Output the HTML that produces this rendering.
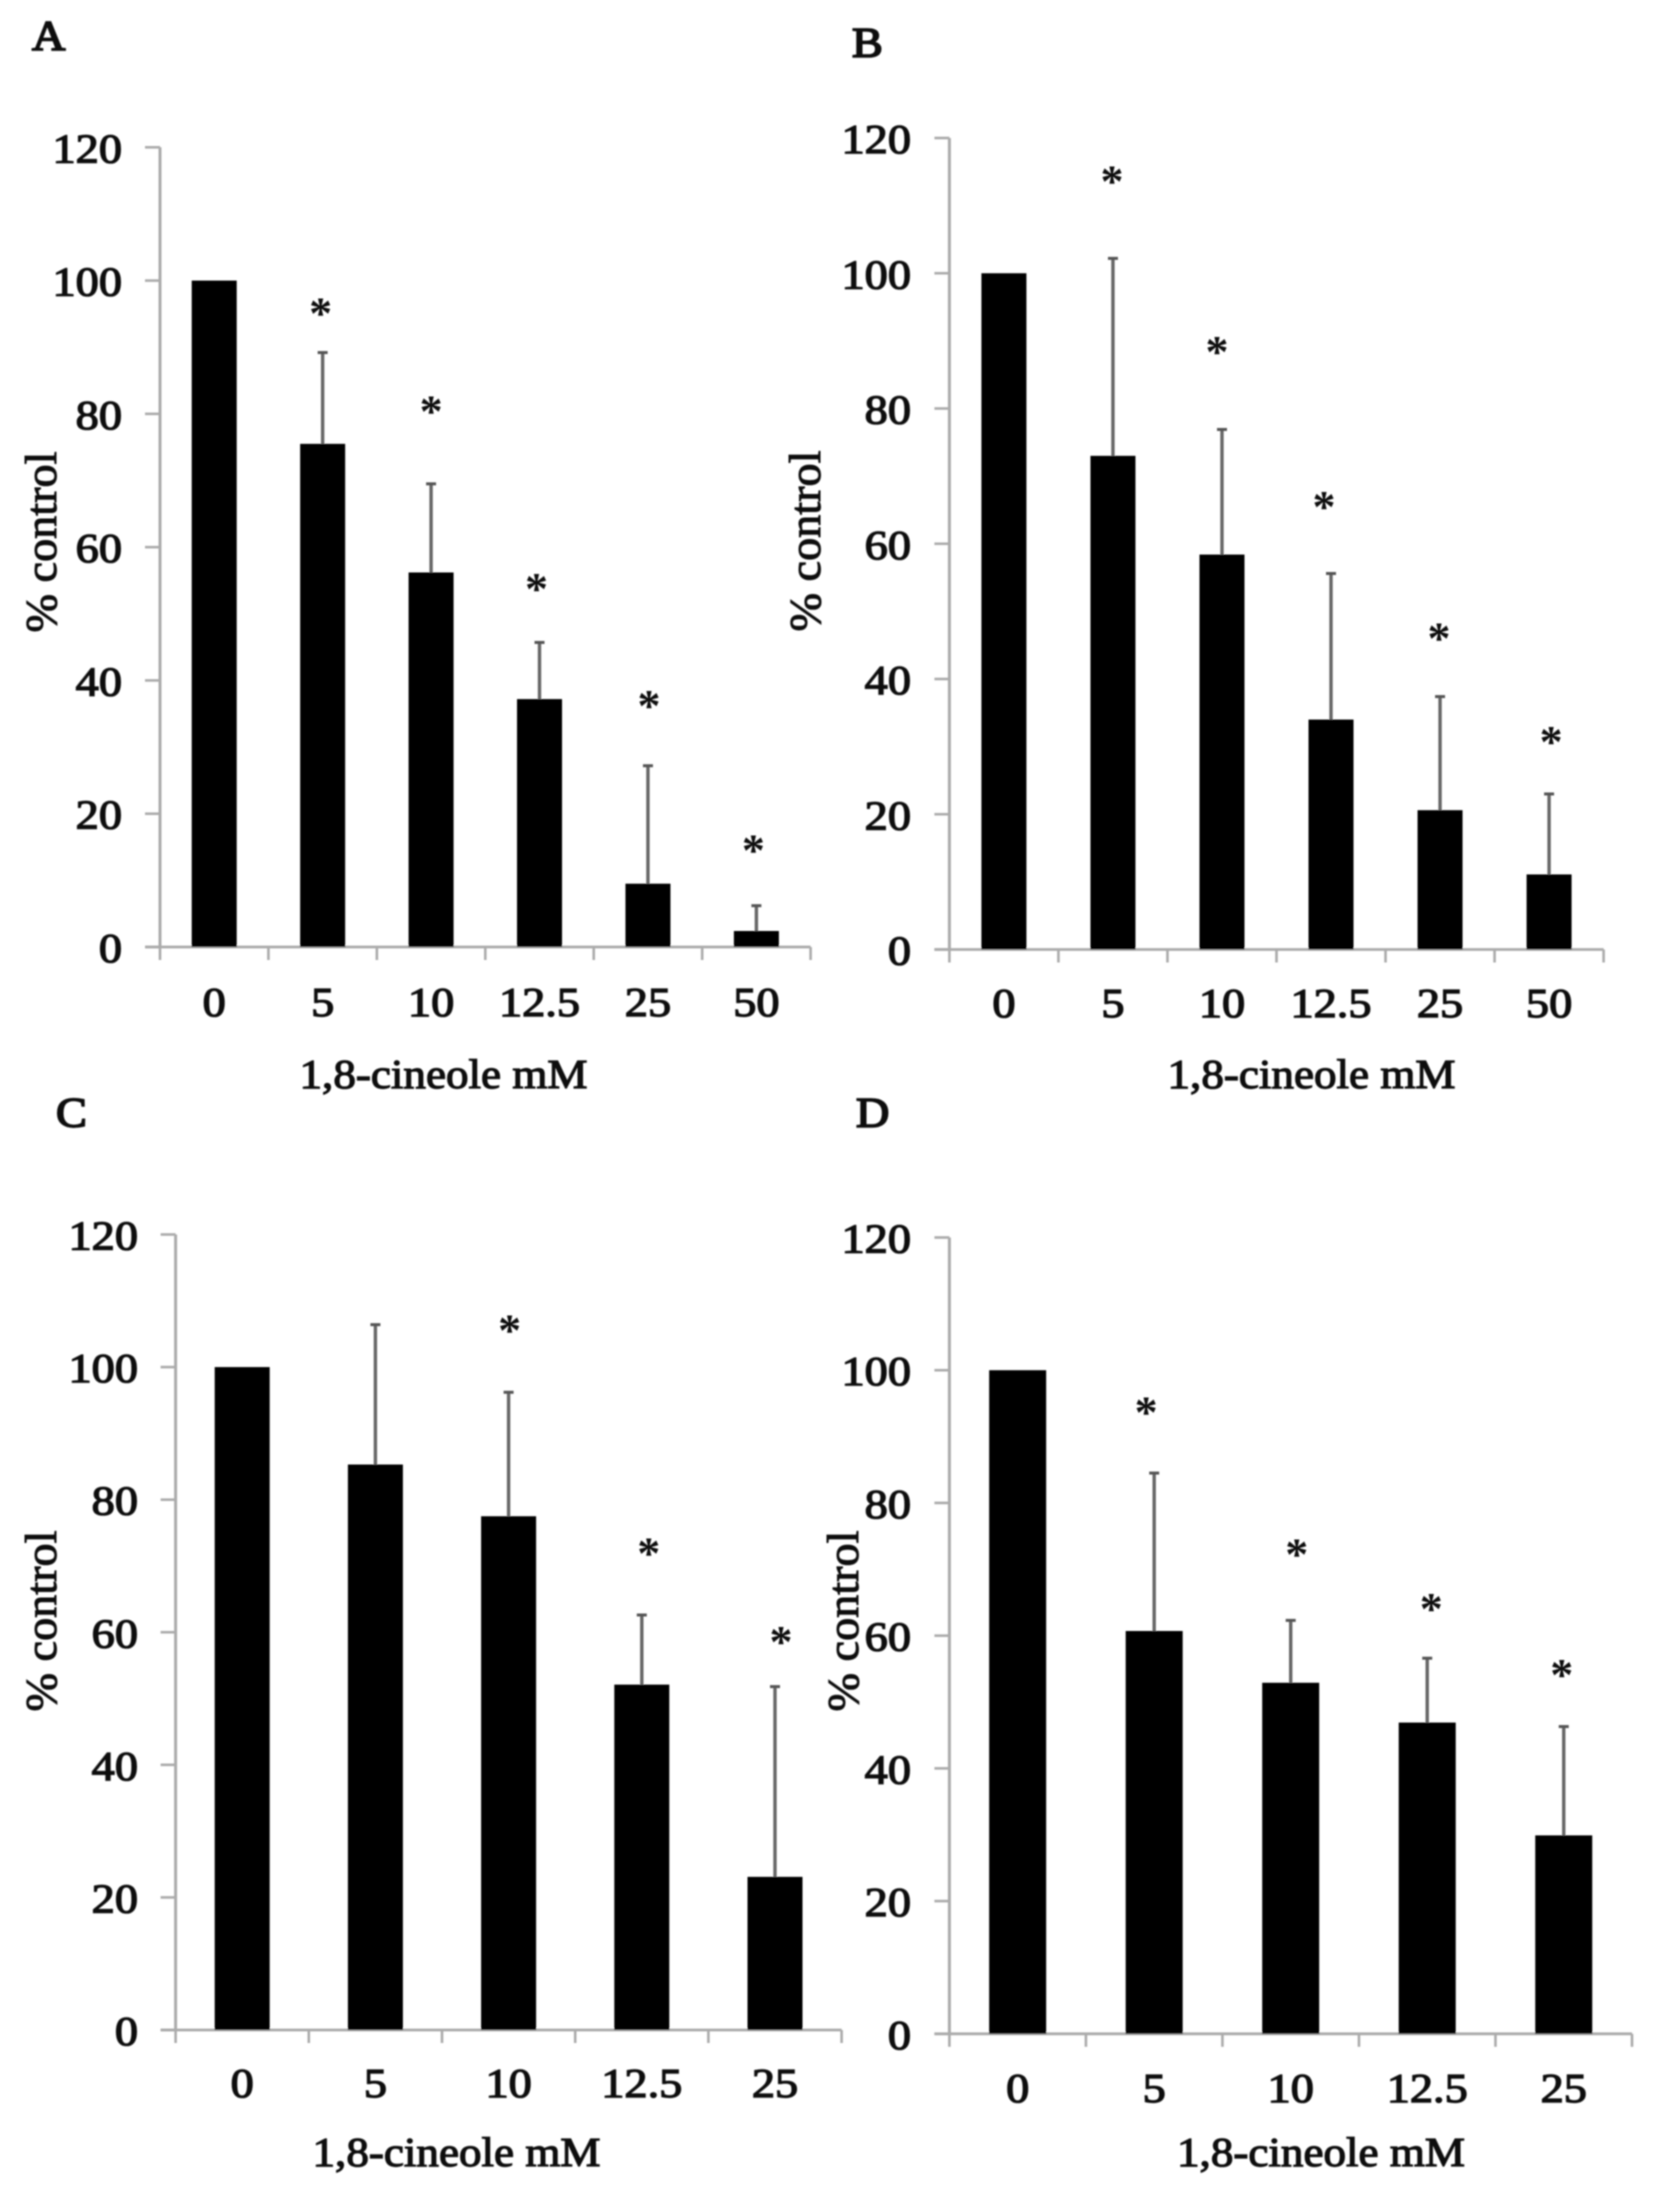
<!DOCTYPE html>
<html lang="en">
<head>
<meta charset="utf-8">
<title>1,8-cineole dose response</title>
<style>
html,body{margin:0;padding:0;background:#fff;}
svg{display:block;}
text{font-family:"Liberation Serif",serif;fill:#111;}
</style>
</head>
<body>
<svg id="figure" xmlns="http://www.w3.org/2000/svg" width="1654" height="2196" viewBox="0 0 1654 2196">
<defs><filter id="soft" x="-2%" y="-2%" width="104%" height="104%"><feGaussianBlur stdDeviation="0.8"/></filter></defs>
<rect width="1654" height="2196" fill="#fff"/>
<g id="root" filter="url(#soft)"></g>
</svg>
<script>
// ---- data ----
const yTickValues = [0, 20, 40, 60, 80, 100, 120];
const categoriesSix = ['0', '5', '10', '12.5', '25', '50'];
const categoriesFive = ['0', '5', '10', '12.5', '25'];

const valuesA = [100, 75.5, 56.2, 37.2, 9.5, 2.4];
const errorsA = [null, 13.7, 13.3, 8.5, 17.7, 3.8];
const starsA = [null, 95.8, 81.1, 54.5, 36.9, 15.2];

const valuesB = [100, 73, 58.4, 34, 20.6, 11.1];
const errorsB = [null, 29.2, 18.5, 21.6, 16.8, 11.9];
const starsB = [null, 114.3, 89.1, 66.2, 46.7, 31.4];

const valuesC = [100, 85.3, 77.5, 52.1, 23.1];
const errorsC = [null, 21.1, 18.7, 10.5, 28.7];
const starsC = [null, null, 106.3, 72.6, 59.3];

const valuesD = [100, 60.7, 52.9, 46.9, 29.9];
const errorsD = [null, 23.8, 9.4, 9.7, 16.4];
const starsD = [null, 94.4, 73, 64.8, 54.8];

// ---- layout ----
const panels = [
  {id:'a', letter:'A', cats:categoriesSix, vals:valuesA, errs:errorsA, stars:starsA,
   left:160, right:810.6, top:147.3, bottom:947, barW:45, tickRight:122,
   letterX:32, letterY:50, xLabelY:1016, titleX:443.5, titleY:1088, yTitleX:56, yTitleY:542, starNudge:[0,-2,0,-3,1,-3]},
  {id:'b', letter:'B', cats:categoriesSix, vals:valuesB, errs:errorsB, stars:starsB,
   left:949.4, right:1603.6, top:138, bottom:949.5, barW:45, tickRight:911,
   letterX:852, letterY:57, xLabelY:1017, titleX:1311.5, titleY:1088, yTitleX:820, yTitleY:541, starNudge:[0,-1,-5,-7,-1,2]},
  {id:'c', letter:'C', cats:categoriesFive, vals:valuesC, errs:errorsC, stars:starsC,
   left:175.6, right:841.6, top:1234.5, bottom:2030, barW:55, tickRight:138,
   letterX:56, letterY:1127, xLabelY:2097, titleX:456.5, titleY:2166, yTitleX:56, yTitleY:1621, starNudge:[0,0,1,7,6]},
  {id:'d', letter:'D', cats:categoriesFive, vals:valuesD, errs:errorsD, stars:starsD,
   left:949.4, right:1632, top:1237.5, bottom:2033.8, barW:57, tickRight:911,
   letterX:856, letterY:1127, xLabelY:2102, titleX:1321, titleY:2166, yTitleX:858, yTitleY:1621, starNudge:[0,-8,6,4,-2]}
];

const NS = 'http://www.w3.org/2000/svg';
const root = document.getElementById('root');

function make(tag, attrs, parent) {
  const el = document.createElementNS(NS, tag);
  for (const k in attrs) el.setAttribute(k, attrs[k]);
  parent.appendChild(el);
  return el;
}

function numText(parent, str, x, y, anchor) {
  const t = make('text', {
    transform: 'translate(' + x + ',' + y + ') scale(1.13,1)',
    'font-size': 41, 'text-anchor': anchor, stroke: '#111', 'stroke-width': 1.3
  }, parent);
  t.textContent = str;
  return t;
}

panels.forEach(function (p) {
  const g = make('g', {}, root);
  
  

  const yScale = function (v) { return p.bottom - (v / 120) * (p.bottom - p.top); };
  const step = (p.right - p.left) / p.cats.length;
  const xCenter = function (i) { return p.left + step * (i + 0.5); };

  const letter = make('text', {
    transform: 'translate(' + p.letterX + ',' + p.letterY + ') scale(1.1,1)',
    'font-size': 42, stroke: '#111', 'stroke-width': 1.7
  }, g);
  
  
  letter.textContent = p.letter;

  // axes
  const yAxis = make('line', {x1: p.left, x2: p.left, y1: p.top, y2: p.bottom, stroke: '#ababab', 'stroke-width': 3}, g);
  
  
  const xAxis = make('line', {x1: p.left - 15, x2: p.right, y1: p.bottom, y2: p.bottom, stroke: '#ababab', 'stroke-width': 2.8}, g);
  
  

  yTickValues.forEach(function (v) {
    const y = yScale(v);
    const tick = make('line', {x1: p.left - 15, x2: p.left, y1: y, y2: y, stroke: '#ababab', 'stroke-width': 2.6}, g);
    
    
    const lab = numText(g, String(v), p.tickRight, y + 15, 'end');
    
    
  });

  for (let i = 0; i <= p.cats.length; i++) {
    const x = p.left + step * i;
    const tick = make('line', {x1: x, x2: x, y1: p.bottom, y2: p.bottom + 13, stroke: '#ababab', 'stroke-width': 2.6}, g);
    
    
  }

  // marks
  p.cats.forEach(function (c, i) {
    const cx = xCenter(i);
    const v = p.vals[i];

    if (p.errs[i] !== null) {
      const yTop = yScale(v + p.errs[i]);
      const stem = make('line', {x1: cx, x2: cx, y1: yScale(v), y2: yTop, stroke: '#666', 'stroke-width': 3.4}, g);
      
      
      const cap = make('line', {x1: cx - 5, x2: cx + 5, y1: yTop, y2: yTop, stroke: '#555', 'stroke-width': 3}, g);
      
      
    }

    const bar = make('rect', {x: cx - p.barW / 2, y: yScale(v), width: p.barW, height: p.bottom - yScale(v), fill: '#000'}, g);
    
    

    if (p.stars[i] !== null) {
      const star = make('text', {
        x: cx + p.starNudge[i], y: yScale(p.stars[i]) + 20,
        'font-size': 46, 'font-weight': 'bold', 'text-anchor': 'middle'
      }, g);
      
      
      star.textContent = '*';
    }

    const lab = numText(g, c, cx, p.xLabelY, 'middle');
    
    
  });

  // titles
  const xTitle = make('text', {
    x: p.titleX, y: p.titleY, 'font-size': 41, 'text-anchor': 'middle',
    textLength: 288, lengthAdjust: 'spacingAndGlyphs', stroke: '#111', 'stroke-width': 1.2
  }, g);
  
  
  xTitle.textContent = '1,8-cineole mM';

  const yTitle = make('text', {
    transform: 'translate(' + p.yTitleX + ',' + p.yTitleY + ') rotate(-90)',
    'font-size': 44, 'text-anchor': 'middle',
    textLength: 181, lengthAdjust: 'spacingAndGlyphs', stroke: '#111', 'stroke-width': 1
  }, g);
  
  
  yTitle.textContent = '% control';
});
</script>
</body>
</html>
